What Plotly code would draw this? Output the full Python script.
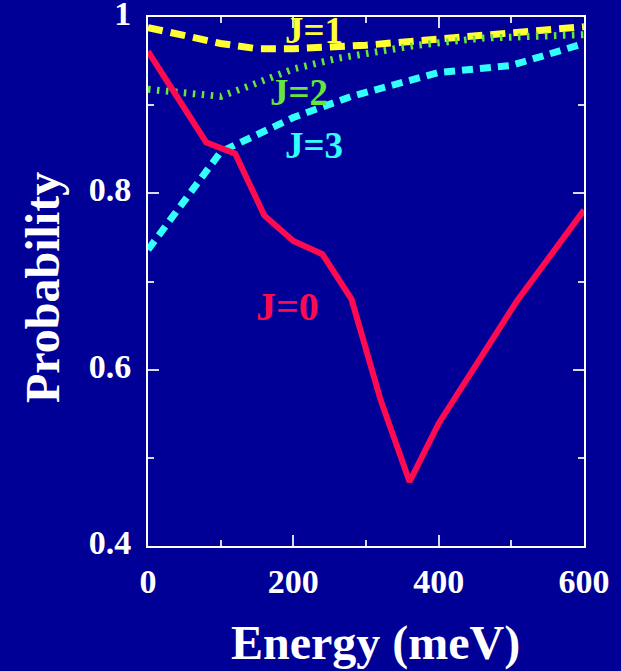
import plotly.graph_objects as go

# ---- data ----
energy_j0 = [0, 80, 120, 160, 200, 240, 280, 320, 360, 400, 507, 600]
prob_j0 = [0.961, 0.858, 0.845, 0.775, 0.746, 0.731, 0.680, 0.566, 0.473, 0.539, 0.677, 0.781]

energy_j1 = [0, 50, 100, 150, 200, 300, 400, 500, 600]
prob_j1 = [0.988, 0.978, 0.970, 0.964, 0.964, 0.968, 0.975, 0.982, 0.989]

energy_j2 = [0, 50, 100, 140, 200, 260, 300, 370, 460, 600]
prob_j2 = [0.918, 0.914, 0.910, 0.922, 0.941, 0.953, 0.958, 0.968, 0.976, 0.980]

energy_j3 = [0, 100, 200, 280, 400, 500, 600]
prob_j3 = [0.736, 0.847, 0.886, 0.910, 0.937, 0.945, 0.970]

y_tickvals = [0.4, 0.6, 0.8, 1.0]
y_ticktext = ["0.4", "0.6", "0.8", "1"]
x_tickvals = [0, 200, 400, 600]
x_ticktext = ["0", "200", "400", "600"]

labels = ["J=0", "J=1", "J=2", "J=3"]
label_x = [192, 228, 208, 229]
label_y = [0.672, 0.985, 0.914, 0.854]

x_title = "Energy (meV)"
y_title = "Probability"

BG = "#000096"
RED = "#ff0a50"
YEL = "#ffff33"
GRN = "#66e63c"
CYN = "#33ffff"
FONT = "Liberation Serif"

W, H = 621, 671
ML, MR, MT, MB = 148, 37, 17, 125
PW, PH = W - ML - MR, H - MT - MB


def px_to_paper(px, py):
    return (px - ML) / PW, (H - MB - py) / PH


fig = go.Figure()
fig.add_trace(go.Scatter(x=energy_j1, y=prob_j1, mode="lines",
                         line=dict(color=YEL, width=7, dash="15px,8px")))
fig.add_trace(go.Scatter(x=energy_j2, y=prob_j2, mode="lines",
                         line=dict(color=GRN, width=7, dash="2.5px,6.5px")))
fig.add_trace(go.Scatter(x=energy_j3, y=prob_j3, mode="lines",
                         line=dict(color=CYN, width=7, dash="11px,7px")))
fig.add_trace(go.Scatter(x=energy_j0, y=prob_j0, mode="lines",
                         line=dict(color=RED, width=6)))

label_colors = [RED, YEL, GRN, CYN]
label_sizes = [40, 37, 37, 37]
for t, lx, ly, c, s in zip(labels, label_x, label_y, label_colors, label_sizes):
    fig.add_annotation(x=lx, y=ly, xref="x", yref="y", text="<b>%s</b>" % t,
                       showarrow=False, font=dict(family=FONT, size=s, color=c),
                       xanchor="center", yanchor="middle")

# axis titles as annotations for precise placement
tx, ty = px_to_paper(375, 643)
fig.add_annotation(x=tx, y=ty, xref="paper", yref="paper", text="<b>%s</b>" % x_title,
                   showarrow=False, font=dict(family=FONT, size=48, color="white"),
                   xanchor="center", yanchor="middle")
tx, ty = px_to_paper(42, 288)
fig.add_annotation(x=tx, y=ty, xref="paper", yref="paper",
                   text="<b>%s</b>" % y_title, textangle=-90,
                   showarrow=False, font=dict(family=FONT, size=48, color="white"),
                   xanchor="center", yanchor="middle")

tickc = "#d8d8ee"
fig.update_xaxes(range=[0, 600], tickvals=x_tickvals, ticktext=x_ticktext,
                 ticks="inside", ticklen=11, tickwidth=2, tickcolor=tickc,
                 minor=dict(dtick=100, tick0=0, ticks="inside", ticklen=6, tickwidth=2, tickcolor=tickc),
                 showline=True, linecolor="white", linewidth=2, mirror="allticks",
                 showgrid=False, zeroline=False, automargin=False,
                 tickfont=dict(family=FONT, size=34, color="white", weight="bold"),
                 ticklabelstandoff=4, ticklabeloverflow="allow")
fig.update_yaxes(range=[0.4, 1.0], tickvals=y_tickvals, ticktext=y_ticktext,
                 ticks="inside", ticklen=11, tickwidth=2, tickcolor=tickc,
                 minor=dict(tickvals=[0.5, 0.7, 0.9], ticks="inside", ticklen=6, tickwidth=2, tickcolor=tickc),
                 showline=True, linecolor="white", linewidth=2, mirror="allticks",
                 showgrid=False, zeroline=False, automargin=False,
                 tickfont=dict(family=FONT, size=34, color="white", weight="bold"),
                 ticklabelstandoff=8, ticklabelshift=-4, ticklabeloverflow="allow")
fig.update_layout(width=W, height=H, paper_bgcolor=BG, plot_bgcolor=BG,
                  showlegend=False,
                  margin=dict(l=ML, r=MR, t=MT, b=MB, autoexpand=False))
fig.write_html("out.html", config={"displayModeBar": False},
               post_script="document.body.style.margin='0';document.body.style.background='%s';" % BG)
